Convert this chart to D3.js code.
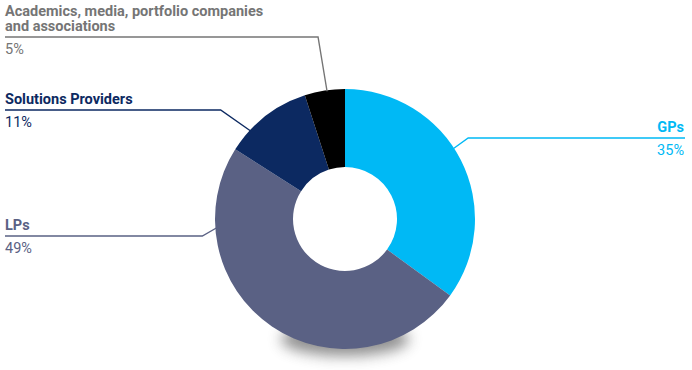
<!DOCTYPE html>
<head>
<script src="https://d3js.org/d3.v7.min.js"></script>
</head>
<style>
  body { margin: 0; font-family: Roboto, 'Noto Sans', sans-serif; background: #fff; }
</style>
<svg width="692" height="370"></svg>
<script>
// data
var categories = ["GPs", "LPs", "Solutions Providers", "Academics, media, portfolio companies and associations"];
var shares = [35, 49, 11, 5];
var colors = ["#00b9f5", "#5a6184", "#0c2961", "#000000"];
var labelColors = ["#00b9f5", "#5a6184", "#0c2961", "#757575"];
// label layout: text lines, side, y of leader line, angle (deg) where leader hits the pie
var labelLines = [["GPs"], ["LPs"], ["Solutions Providers"], ["Academics, media, portfolio companies", "and associations"]];
var labelSide = ["right", "left", "left", "left"];
var lineY = [138, 236, 110, 37];
var hitAngle = [57, 266, 313, 352];
var elbowDx = [15, 14, 30, 9];

var svg = d3.select("svg"),
    cx = 345, cy = 219,
    outer = 130, inner = 52;

var defs = svg.append("defs");
defs.append("filter").attr("id", "blur")
    .attr("x", "-50%").attr("y", "-100%").attr("width", "200%").attr("height", "300%")
  .append("feGaussianBlur").attr("stdDeviation", 7);

// shadow under the donut
svg.append("ellipse")
    .attr("cx", cx).attr("cy", cy + outer - 10)
    .attr("rx", 64).attr("ry", 17)
    .attr("fill", "#555")
    .attr("opacity", 0.65)
    .attr("filter", "url(#blur)");

var pie = d3.pie().sort(null).value(function(d) { return d; });
var arc = d3.arc().innerRadius(inner).outerRadius(outer);
var arcs = pie(shares);

var g = svg.append("g").attr("transform", "translate(" + cx + "," + cy + ")");

g.selectAll("path")
  .data(arcs)
  .enter().append("path")
    .attr("d", arc)
    .attr("fill", function(d, i) { return colors[i]; });

// labels + leaders
arcs.forEach(function(d, i) {
  var a = hitAngle[i] * Math.PI / 180;
  var px = cx + (outer - 1) * Math.sin(a),
      py = cy - (outer - 1) * Math.cos(a);
  var right = labelSide[i] == "right";
  var ex = right ? px + elbowDx[i] : px - elbowDx[i];
  var endX = right ? 685 : 5;

  svg.append("polyline")
      .attr("points", [[px, py], [ex, lineY[i]], [endX, lineY[i]]].map(function(p) { return p.join(","); }).join(" "))
      .attr("fill", "none")
      .attr("stroke", labelColors[i])
      .attr("stroke-width", 1.4);

  var n = labelLines[i].length;
  labelLines[i].forEach(function(s, j) {
    svg.append("text")
        .attr("x", right ? 684 : 5)
        .attr("y", lineY[i] - 6 - (n - 1 - j) * 15)
        .attr("text-anchor", right ? "end" : "start")
        .attr("fill", labelColors[i])
        .attr("font-size", 14.5)
        .attr("font-weight", 700)
        .text(s);
  });

  svg.append("text")
      .attr("x", right ? 684 : 5)
      .attr("y", lineY[i] + 17)
      .attr("text-anchor", right ? "end" : "start")
      .attr("fill", labelColors[i])
      .attr("font-size", 14.5)
      .text(d.data + "%");
});
</script>
